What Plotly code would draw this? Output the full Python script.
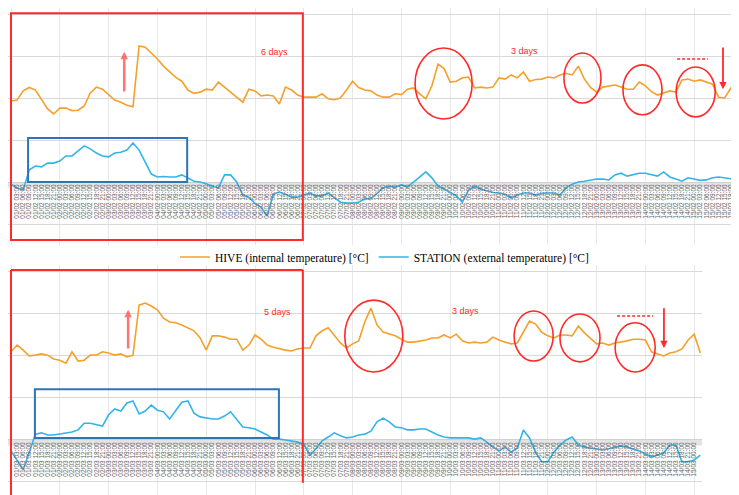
import plotly.graph_objects as go
import pandas as pd

# ---------------- data (days from start, temperatures in °C) ----------------
top_days = [i / 8 for i in range(121)]
bottom_days = [i / 8 for i in range(114)]

top_hive = [19.3, 19.5, 21.7, 22.5, 21.9, 19.5, 17.4, 16.2, 17.6, 17.6,
            17.0, 17.1, 18.1, 21.2, 22.6, 22.1, 20.8, 19.5, 19.0, 18.3,
            17.9, 32.4, 32.1, 30.7, 29.3, 27.6, 26.2, 24.9, 24.0, 21.9,
            21.1, 21.4, 22.1, 21.9, 23.8, 22.6, 21.4, 20.0, 19.0, 22.1,
            21.7, 20.5, 20.7, 20.5, 18.6, 22.6, 21.9, 20.7, 20.2, 20.2,
            20.2, 21.0, 19.8, 19.6, 20.0, 21.9, 24.0, 22.5, 21.9, 21.7,
            20.7, 20.2, 20.2, 21.0, 20.8, 22.1, 22.4, 21.0, 19.8, 22.9,
            28.1, 27.0, 23.8, 24.0, 24.8, 25.0, 22.4, 22.6, 22.4, 22.6,
            24.8, 24.5, 25.5, 24.8, 26.2, 24.0, 24.4, 24.5, 25.0, 24.8,
            25.5, 25.9, 25.5, 27.6, 24.5, 22.5, 21.4, 22.6, 22.9, 23.1,
            22.6, 22.1, 22.1, 23.8, 22.9, 21.5, 20.7, 21.2, 21.7, 21.4,
            24.3, 24.5, 24.0, 24.3, 23.8, 23.3, 20.2, 20.0, 22.4, 21.7, 21.4]

top_station = [-0.5, -1.4, -1.9, 2.9, 3.8, 3.6, 4.5, 4.5, 5.0, 6.2,
               6.2, 7.4, 8.6, 7.9, 6.9, 6.2, 6.0, 6.9, 7.1, 7.6,
               9.3, 7.6, 4.8, 1.9, 1.2, 1.3, 1.2, 1.2, 1.7, 1.0,
               0.2, 0.0, -0.4, -1.0, -1.4, 1.7, 1.7, 0.0, -3.1, -3.6,
               -5.1, -6.0, -8.1, -2.9, -2.4, -2.9, -3.6, -3.6, -3.1, -2.6,
               -3.3, -3.3, -2.6, -3.8, -4.8, -5.0, -5.0, -4.8, -4.0, -4.0,
               -2.6, -1.4, -1.0, -1.2, -0.7, -1.1, 0.0, 1.2, 2.4, 1.0,
               -1.0, -1.7, -2.6, -3.3, -4.8, -1.9, -1.0, -1.7, -2.1, -2.5,
               -2.6, -2.9, -3.8, -3.1, -2.6, -2.6, -3.1, -2.7, -2.6, -2.6,
               -3.1, -1.4, -0.5, 0.0, 0.2, 0.5, 0.7, 0.7, 0.5, 1.7,
               2.1, 1.4, 1.7, 2.1, 2.1, 1.7, 1.4, 2.4, 1.2, 0.7,
               0.2, 1.0, 0.7, 0.4, 0.5, 1.0, 1.2, 1.0, 0.7, 0.6, 0.7]

bottom_hive = [21.0, 22.6, 21.4, 20.0, 20.2, 20.5, 20.2, 19.3, 19.0, 18.3,
               21.0, 18.8, 19.0, 20.2, 20.2, 21.0, 20.7, 20.2, 20.5, 19.8,
               20.2, 32.1, 32.6, 31.9, 31.0, 29.0, 28.1, 27.9, 27.4, 26.7,
               26.0, 24.3, 21.4, 24.8, 24.8, 24.5, 24.0, 24.0, 21.4, 22.6,
               25.0, 24.0, 22.6, 22.1, 21.7, 21.4, 21.2, 21.7, 21.9, 21.9,
               24.8, 26.0, 26.7, 24.8, 23.1, 21.9, 22.9, 23.6, 28.1, 31.4,
               27.4, 25.7, 25.2, 24.8, 24.0, 23.3, 23.3, 23.6, 23.8, 24.3,
               24.3, 25.0, 24.3, 25.2, 23.6, 23.1, 23.3, 23.1, 23.3, 24.5,
               23.8, 23.3, 22.9, 23.1, 25.7, 28.3, 27.6, 25.7, 24.8, 24.3,
               25.0, 25.0, 24.8, 27.1, 25.5, 24.3, 22.9, 23.1, 22.6, 23.1,
               23.3, 23.6, 24.0, 24.0, 23.8, 21.0, 20.5, 20.0, 20.7, 21.0,
               21.7, 23.8, 25.2, 20.7]

bottom_station = [-2.6, -4.8, -7.1, -2.9, 1.4, 1.7, 1.2, 1.2, 1.4, 1.7,
                  1.9, 2.4, 4.0, 4.0, 3.6, 3.3, 6.0, 7.4, 6.9, 8.8,
                  9.3, 6.2, 6.9, 8.3, 7.1, 6.7, 5.0, 7.1, 9.0, 9.3,
                  6.4, 5.5, 5.2, 5.0, 5.0, 5.7, 6.7, 5.0, 3.1, 2.9,
                  2.6, 1.9, 1.2, 0.2, 0.2, 0.0, -0.2, -0.5, -1.0, -3.6,
                  -2.1, -0.2, 0.7, 1.7, 1.0, 0.5, 0.7, 1.2, 1.4, 2.1,
                  4.3, 5.2, 4.3, 3.1, 2.9, 2.4, 2.4, 2.6, 2.6, 1.9,
                  1.2, 0.7, 0.5, 0.5, 0.5, 0.5, 0.2, 0.5, -0.5, -1.7,
                  -2.6, -1.7, -2.9, -1.9, 2.4, 0.5, -2.9, -5.2, -5.2, -2.9,
                  -1.2, 0.0, 0.7, -1.2, -1.7, -1.9, -2.1, -2.4, -2.1, -1.7,
                  -1.4, -1.7, -2.1, -2.6, -3.3, -4.0, -3.6, -3.1, -1.2, -1.2,
                  -5.2, -5.2, -4.8, -3.6]

start_top = pd.Timestamp("2019-02-01 00:00")
start_bottom = pd.Timestamp("2019-03-01 00:00")
top_tick_days = [d for d in top_days if d <= 14.8]
bottom_tick_days = [d for d in bottom_days if d <= 14.1]
top_tick_text = [(start_top + pd.Timedelta(days=d)).strftime("%d/%m %H:%M") for d in top_tick_days]
bottom_tick_text = [(start_bottom + pd.Timedelta(days=d)).strftime("%d/%m %H:%M") for d in bottom_tick_days]
day_lines = list(range(0, 16))

series_names = ["HIVE (internal temperature) [°C]", "STATION (external temperature) [°C]"]
hive_color = "#F5A02A"
station_color = "#33B4E8"
red = "#FF2A2A"
blue_box = "#2E75B6"

# ---------------- figure ----------------
fig = go.Figure()
fig.add_trace(go.Scatter(x=top_days, y=top_hive, mode="lines", name=series_names[0],
                         line=dict(color=hive_color, width=1.6), xaxis="x", yaxis="y"))
fig.add_trace(go.Scatter(x=top_days, y=top_station, mode="lines", name=series_names[1],
                         line=dict(color=station_color, width=1.6), xaxis="x", yaxis="y"))
fig.add_trace(go.Scatter(x=bottom_days, y=bottom_hive, mode="lines", name=series_names[0],
                         line=dict(color=hive_color, width=1.6), xaxis="x2", yaxis="y2",
                         showlegend=False))
fig.add_trace(go.Scatter(x=bottom_days, y=bottom_station, mode="lines", name=series_names[1],
                         line=dict(color=station_color, width=1.6), xaxis="x2", yaxis="y2",
                         showlegend=False))

tickfont = dict(family="Liberation Sans", size=6.5, color="#606060")

def xaxis_cfg(domain, rng, pos, vals, texts):
    return dict(domain=domain, range=rng, anchor="free", position=pos, automargin=False,
                tickmode="array", tickvals=vals, ticktext=texts, tickangle=-90,
                tickfont=tickfont, showgrid=False, zeroline=False, showline=False, ticks="",
                minor=dict(tickmode="array", tickvals=day_lines, showgrid=True,
                           gridcolor="#e8e8e8", gridwidth=1, ticks=""))

def yaxis_cfg(domain, rng, anchor):
    return dict(domain=domain, range=rng, anchor=anchor, dtick=10, showticklabels=False,
                automargin=False, showgrid=True, gridcolor="#d9d9d9", gridwidth=1,
                zeroline=True, zerolinecolor="#d0d0d0", zerolinewidth=1, ticks="")

# the page body adds an 8 px offset, so the figure is 8 px smaller than the window
fig.update_layout(
    width=731, height=487,
    margin=dict(l=0, r=0, t=0, b=0, pad=0, autoexpand=False),
    paper_bgcolor="white", plot_bgcolor="white",
    xaxis=xaxis_cfg([0, 1], [-0.0615, 14.918], 0.6427, top_tick_days, top_tick_text),
    yaxis=yaxis_cfg([0.5133, 1.0], [-15.0, 41.43], "x"),
    xaxis2=xaxis_cfg([0, 0.9494], [-0.0615, 14.16], 0.1129, bottom_tick_days, bottom_tick_text),
    yaxis2=yaxis_cfg([0.0, 0.4723], [-13.1, 41.67], "x2"),
    legend=dict(orientation="h", x=0.515, xanchor="center", y=0.4887, yanchor="middle",
                font=dict(family="Liberation Serif", size=11.5, color="black"),
                itemwidth=30, bgcolor="rgba(0,0,0,0)", tracegroupgap=0),
    showlegend=True,
)

shapes = []
# grey band under the zero axis
shapes.append(dict(type="rect", xref="x domain", yref="y", x0=0, x1=1, y0=0, y1=-1.3,
                   fillcolor="#e3e3e3", line=dict(width=0), layer="below"))
shapes.append(dict(type="rect", xref="x2 domain", yref="y2", x0=0, x1=1, y0=0, y1=-1.3,
                   fillcolor="#e3e3e3", line=dict(width=0), layer="below"))

# top panel annotations
shapes.append(dict(type="rect", xref="x", yref="y", x0=0, x1=5.98, y0=-13.8, y1=40.2,
                   line=dict(color=red, width=2)))
shapes.append(dict(type="rect", xref="x", yref="y", x0=0.35, x1=3.61, y0=0.0, y1=10.5,
                   line=dict(color=blue_box, width=2)))
for (a, b, c, d) in [(8.28, 9.45, 15.0, 31.9), (11.33, 12.09, 18.8, 30.7),
                     (12.54, 13.34, 16.0, 27.9), (13.63, 14.43, 15.5, 27.4)]:
    shapes.append(dict(type="circle", xref="x", yref="y", x0=a, x1=b, y0=c, y1=d,
                       line=dict(color=red, width=1.6)))
shapes.append(dict(type="line", xref="x", yref="y", x0=13.65, x1=14.28, y0=29.3, y1=29.3,
                   line=dict(color=red, width=1.5, dash="3px,2px")))

# bottom panel annotations
shapes.append(dict(type="line", xref="x2", yref="y2", x0=0, x1=5.98, y0=40.5, y1=40.5,
                   line=dict(color=red, width=2)))
shapes.append(dict(type="line", xref="x2", yref="y2", x0=0, x1=0, y0=40.5, y1=-13.1,
                   line=dict(color=red, width=2)))
shapes.append(dict(type="line", xref="x2", yref="y2", x0=5.98, x1=5.98, y0=40.5, y1=-10.2,
                   line=dict(color=red, width=2)))
shapes.append(dict(type="rect", xref="x2", yref="y2", x0=0.49, x1=5.49, y0=0.5, y1=12.1,
                   line=dict(color=blue_box, width=2)))
for (a, b, c, d) in [(6.84, 8.03, 16.2, 33.3), (10.31, 11.11, 18.8, 30.7),
                     (11.25, 12.07, 18.6, 30.0), (12.38, 13.20, 16.2, 27.9)]:
    shapes.append(dict(type="circle", xref="x2", yref="y2", x0=a, x1=b, y0=c, y1=d,
                       line=dict(color=red, width=1.6)))
shapes.append(dict(type="line", xref="x2", yref="y2", x0=12.42, x1=13.16, y0=29.5, y1=29.5,
                   line=dict(color=red, width=1.5, dash="3px,2px")))
fig.update_layout(shapes=shapes)

txt = dict(family="Liberation Sans", size=9, color=red)
ann = [
    dict(xref="x", yref="y", x=5.39, y=31.0, text="6 days", showarrow=False, font=txt),
    dict(xref="x", yref="y", x=10.53, y=31.2, text="3 days", showarrow=False, font=txt),
    dict(xref="x2", yref="y2", x=5.47, y=30.5, text="5 days", showarrow=False, font=txt),
    dict(xref="x2", yref="y2", x=9.32, y=30.7, text="3 days", showarrow=False, font=txt),
    # arrows
    dict(xref="x", yref="y", x=2.32, y=31.0, axref="x", ayref="y", ax=2.32, ay=21.2,
         text="", showarrow=True, arrowhead=2, arrowsize=0.6, arrowwidth=2.5,
         arrowcolor="rgba(255,60,60,0.7)"),
    dict(xref="x", yref="y", x=14.59, y=22.1, axref="x", ayref="y", ax=14.59, ay=32.4,
         text="", showarrow=True, arrowhead=2, arrowsize=0.8, arrowwidth=1.8, arrowcolor=red),
    dict(xref="x2", yref="y2", x=2.40, y=31.0, axref="x2", ayref="y2", ax=2.40, ay=21.4,
         text="", showarrow=True, arrowhead=2, arrowsize=0.6, arrowwidth=2.5,
         arrowcolor="rgba(255,60,60,0.7)"),
    dict(xref="x2", yref="y2", x=13.38, y=21.9, axref="x2", ayref="y2", ax=13.38, ay=31.7,
         text="", showarrow=True, arrowhead=2, arrowsize=0.8, arrowwidth=1.8, arrowcolor=red),
]
fig.update_layout(annotations=ann)

fig.write_html("out.html")
